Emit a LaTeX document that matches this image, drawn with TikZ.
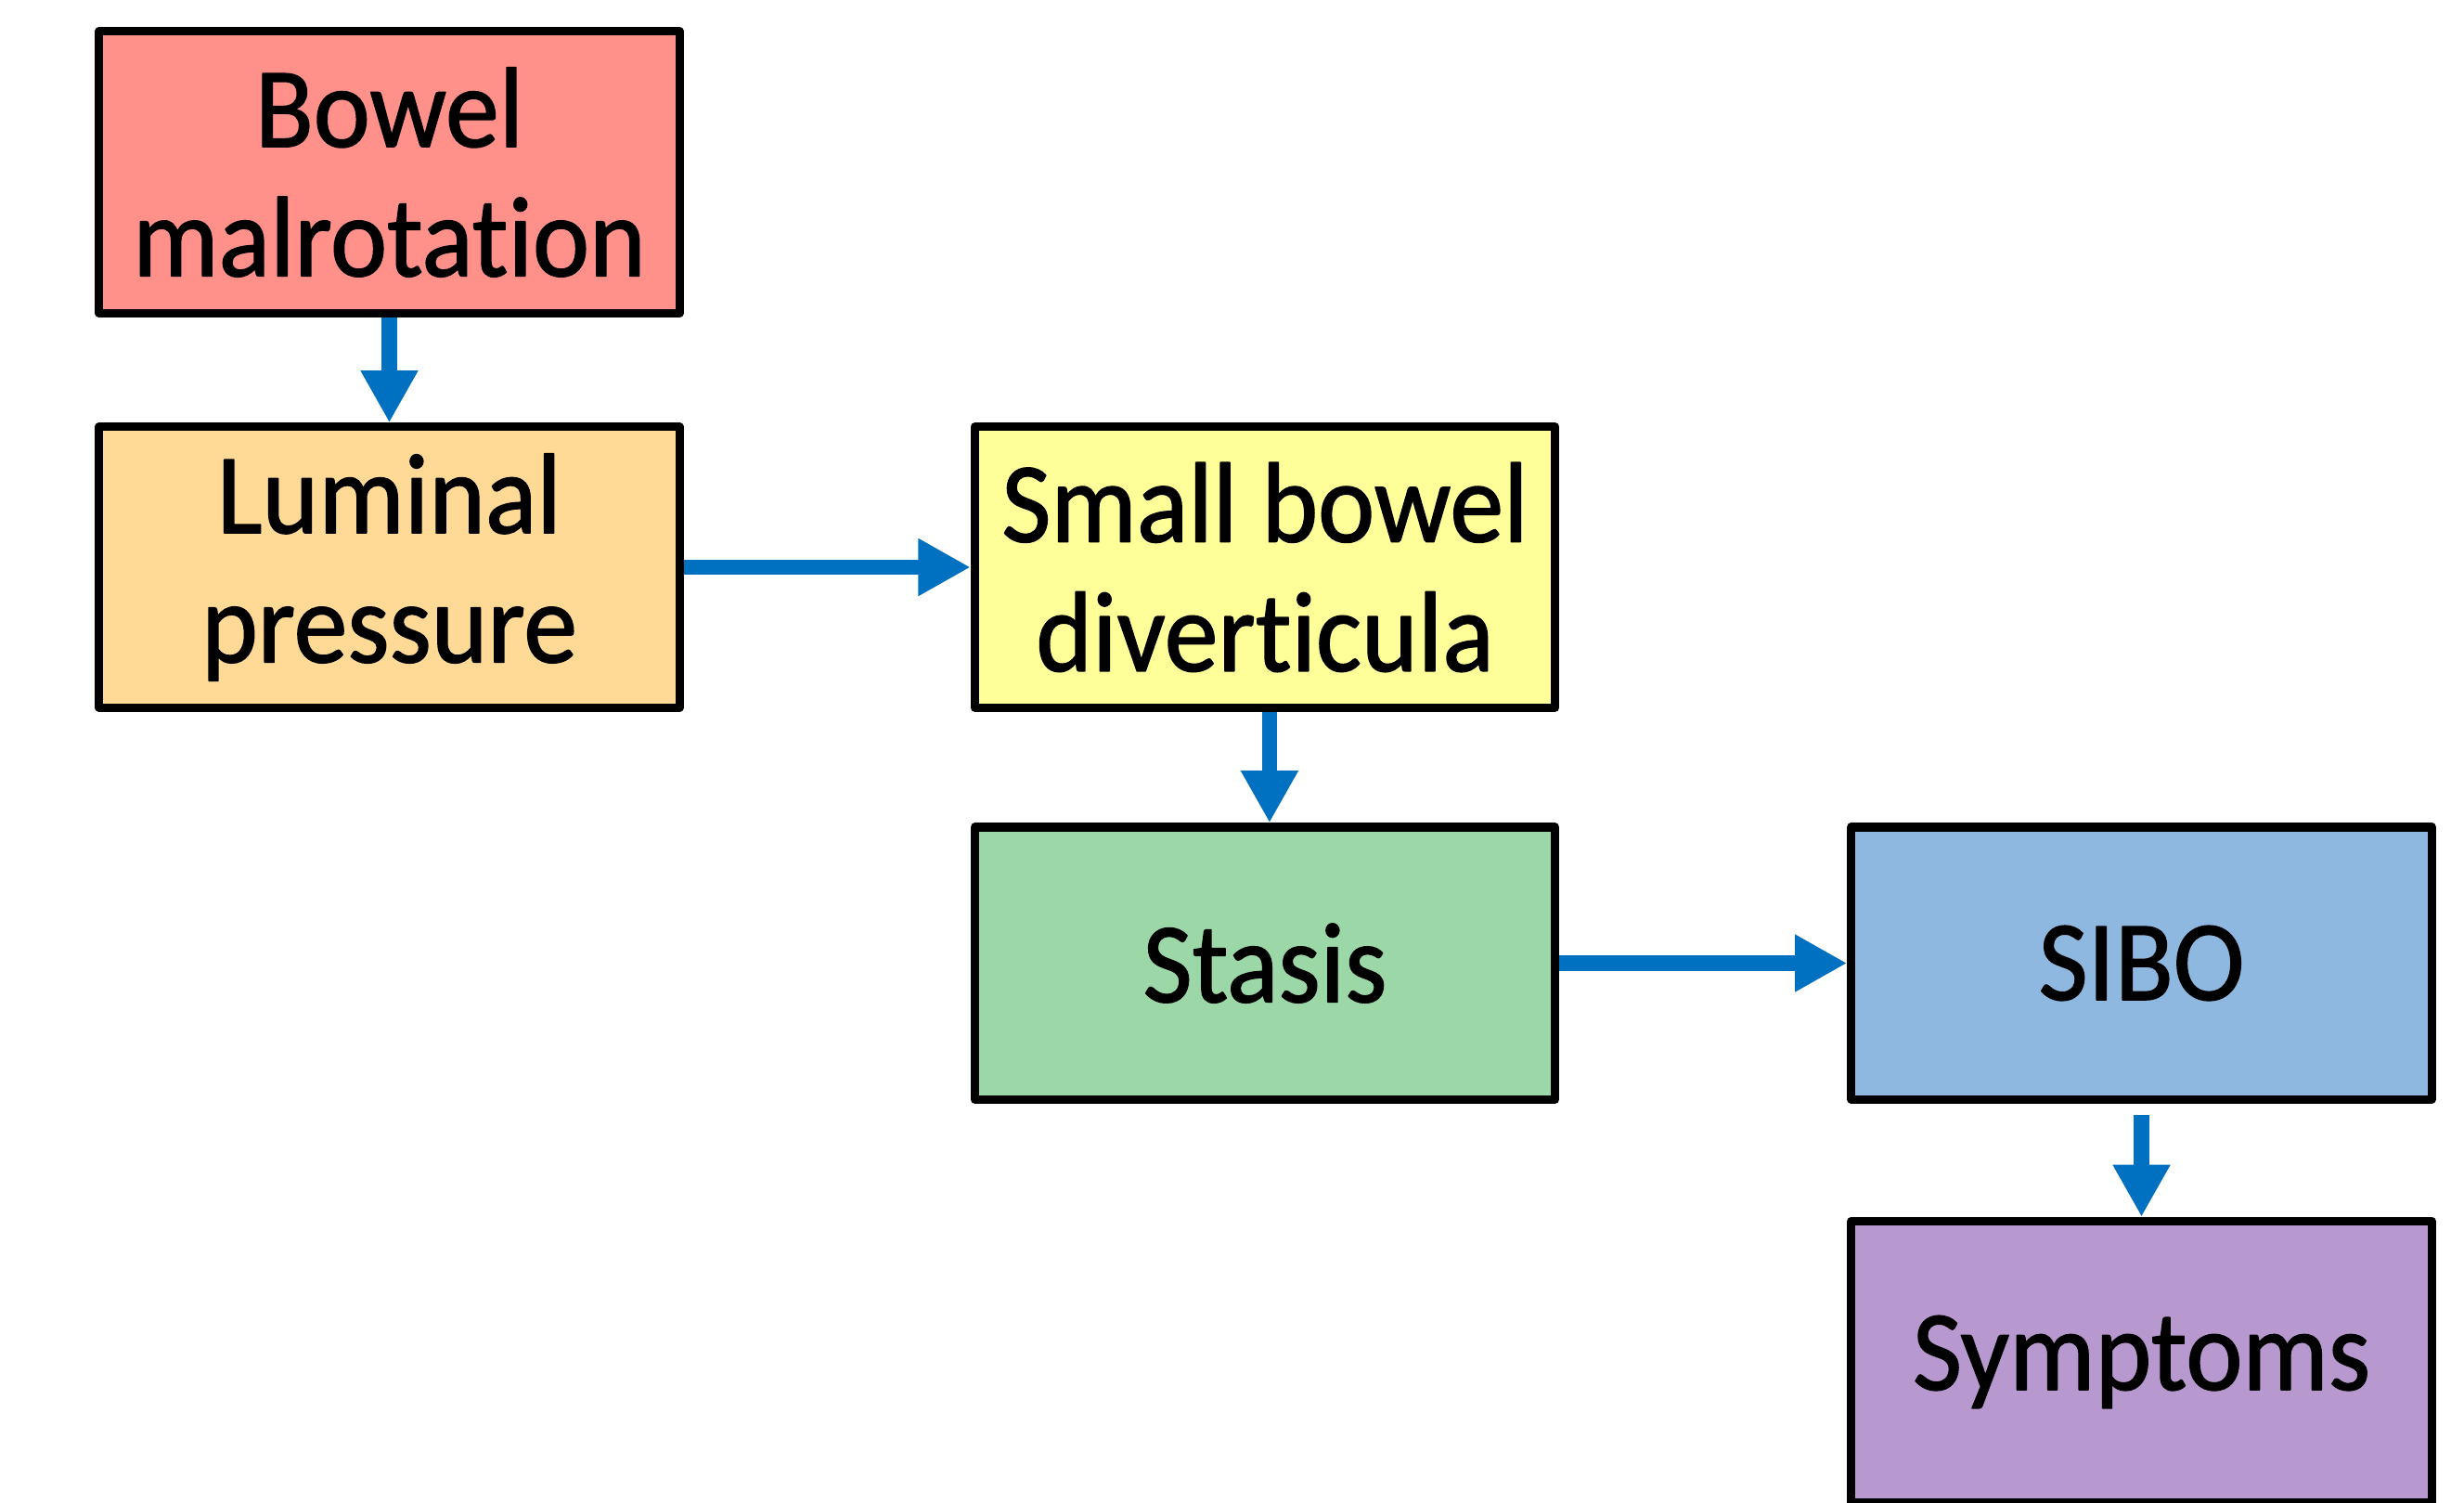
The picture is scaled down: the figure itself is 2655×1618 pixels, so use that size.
\documentclass[tikz,border=0pt]{standalone}
\usepackage{fontspec}
\setmainfont{Carlito}[FakeStretch=0.94,FakeBold=1.2,RawFeature=-liga]
\usetikzlibrary{arrows.meta}
\definecolor{cRed}{RGB}{255,145,138}
\definecolor{cOrange}{RGB}{255,218,150}
\definecolor{cYellow}{RGB}{255,255,153}
\definecolor{cGreen}{RGB}{155,215,167}
\definecolor{cBlue}{RGB}{142,184,223}
\definecolor{cPurple}{RGB}{183,153,208}
\definecolor{arrowblue}{RGB}{0,112,192}
\begin{document}
\begin{tikzpicture}[x=0.01cm,y=-0.01cm,
  box/.style={draw=black, line width=2.6pt, line join=round, inner sep=0pt, align=center,
    font=\fontsize{35}{39.6}\selectfont, minimum width=6.25cm},
  arr/.style={draw=arrowblue, line width=4.8pt,
    -{Triangle[length=16pt,width=16.5pt]}}]
\useasboundingbox (0,0) rectangle (2655,1618);
\node[box, fill=cRed, minimum height=3.03cm] (A) at (419.5,185.5) {Bowel\\malrotation};
\node[box, fill=cOrange, minimum height=3.02cm] (B) at (419.5,611) {Luminal\\pressure};
\node[box, fill=cYellow, minimum height=3.02cm] (C) at (1363,611) {Small bowel\\diverticula};
\node[box, fill=cGreen, minimum height=2.93cm] (D) at (1363,1037.5) {Stasis};
\node[box, fill=cBlue, minimum height=2.93cm] (E) at (2307.5,1037.5) {SIBO};
\node[box, fill=cPurple, minimum height=3.03cm] (F) at (2307.5,1467) {Symptoms};
\draw[arr] (A.south) -- (B.north);
\draw[arr] (B.east) -- (C.west);
\draw[arr] ([xshift=1.4pt]C.south) -- ([xshift=1.4pt]D.north);
\draw[arr] (D.east) -- (E.west);
\draw[arr] ([yshift=-3.5pt]E.south) -- (F.north);
\end{tikzpicture}
\end{document}
